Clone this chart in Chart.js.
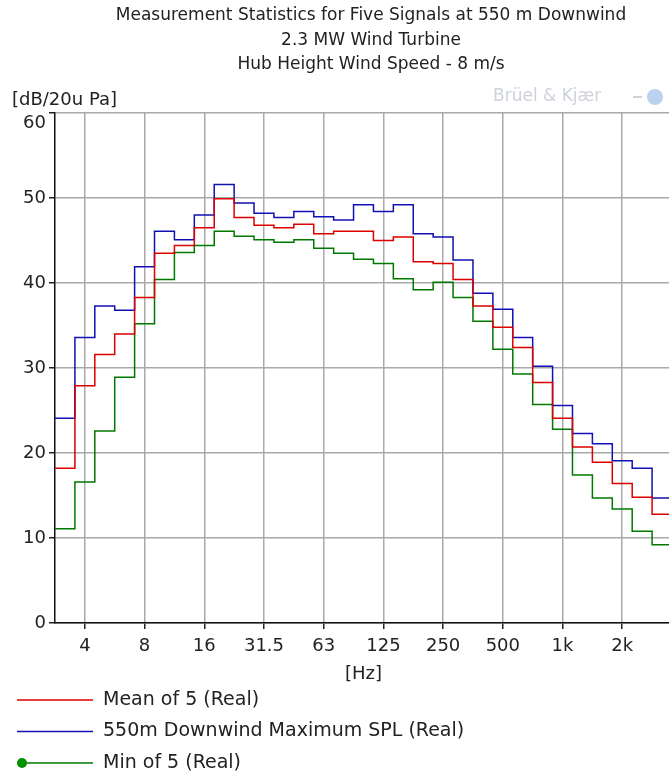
<!DOCTYPE html>
<html><head><meta charset="utf-8">
<script src="https://cdn.jsdelivr.net/npm/chart.js@4"></script>
<style>
html,body{margin:0;padding:0;background:#fff;overflow:hidden;width:669px;height:780px}
#wrap{position:absolute;left:0;top:0;width:742px;height:780px}
</style></head><body>
<div id="wrap"><canvas id="c" width="742" height="780"></canvas></div>
<script>
// 1/3-octave band centre labels
const bandLabels = ['3.15','4','5','6.3','8','10','12.5','16','20','25','31.5','40','50','63','80','100','125','160','200','250','315','400','500','630','800','1k','1.25k','1.6k','2k','2.5k','3.15k'];
// dB values per band
const meanOf5 = [18.2,27.9,31.6,34.0,38.3,43.5,44.4,46.5,49.9,47.7,46.8,46.5,46.9,45.8,46.1,46.1,45.0,45.4,42.5,42.3,40.4,37.3,34.8,32.4,28.3,24.1,20.7,18.9,16.4,14.8,12.8];
const maxSPL  = [24.1,33.6,37.3,36.8,41.9,46.1,45.1,48.0,51.6,49.4,48.2,47.7,48.4,47.8,47.4,49.2,48.4,49.2,45.8,45.4,42.7,38.8,36.9,33.6,30.2,25.6,22.3,21.1,19.1,18.2,14.7];
const minOf5  = [11.1,16.6,22.6,28.9,35.2,40.4,43.6,44.4,46.1,45.5,45.1,44.8,45.1,44.1,43.5,42.8,42.3,40.5,39.2,40.1,38.3,35.5,32.2,29.3,25.7,22.8,17.4,14.7,13.4,10.8,9.2];
// axis tick labels
const tickLabels = ['4','8','16','31.5','63','125','250','500','1k','2k'];
const yTicks = [0,10,20,30,40,50,60];
const seriesNames = ['Mean of 5 (Real)','550m Downwind Maximum SPL (Real)','Min of 5 (Real)'];
const titleLines = ['Measurement Statistics for Five Signals at 550 m Downwind','2.3 MW Wind Turbine','Hub Height Wind Speed - 8 m/s'];

const FONT = '"DejaVu Sans", "Noto Sans", sans-serif';
const TXT = '#222';
const tickIdx = tickLabels.map(l => bandLabels.indexOf(l));
const steps = arr => arr.map((v,i)=>({x:i-0.5,y:v})).concat([{x:arr.length-0.5,y:arr[arr.length-1]}]);

const extras = {
  id:'extras',
  afterDraw(chart){
    const ctx = chart.ctx, ca = chart.chartArea;
    ctx.save();
    ctx.textBaseline='middle';
    // title
    ctx.font = '17px '+FONT; ctx.textAlign='center'; ctx.fillStyle = TXT;
    titleLines.forEach((t,i)=> ctx.fillText(t, chart.width/2, 16 + i*24.5));
    // legend
    ctx.textAlign='left';
    ctx.font = '19px '+FONT;
    chart.data.datasets.forEach((ds,i)=>{
      const y = ca.bottom + 77 + i*31.5;
      ctx.strokeStyle = ds.borderColor; ctx.lineWidth = 1.5;
      ctx.beginPath(); ctx.moveTo(17,y); ctx.lineTo(93,y); ctx.stroke();
      if (ds.legendDot){ ctx.fillStyle = ds.legendDot; ctx.beginPath(); ctx.arc(22,y,5,0,Math.PI*2); ctx.fill(); }
      ctx.fillStyle = TXT; ctx.fillText(ds.label, 103, y);
    });
    // unit label
    ctx.font = '18px '+FONT;
    ctx.fillStyle = TXT;
    ctx.fillText('[dB/20u Pa]', 12, ca.top - 13);
    // watermark
    ctx.font = '17px '+FONT;
    ctx.fillStyle = '#cdd2db';
    ctx.fillText('Brüel & Kjær', 493, ca.top - 16);
    ctx.fillRect(633, ca.top - 17, 9, 2);
    ctx.fillStyle = '#bcd1ef';
    ctx.beginPath(); ctx.arc(655, ca.top - 16, 8, 0, Math.PI*2); ctx.fill();
    ctx.restore();
  }
};

new Chart(document.getElementById('c'), {
  type:'line',
  data:{ datasets:[
    {label:seriesNames[0], data:steps(meanOf5), borderColor:'#dc0000', borderWidth:1.5, pointRadius:0, stepped:true},
    {label:seriesNames[1], data:steps(maxSPL), borderColor:'#1010b4', borderWidth:1.5, pointRadius:0, stepped:true},
    {label:seriesNames[2], data:steps(minOf5), borderColor:'#007800', borderWidth:1.5, pointRadius:0, stepped:true, legendDot:'#009000'}
  ]},
  options:{
    responsive:false, animation:false, events:[],
    layout:{padding:{left:0,right:70,top:113,bottom:95}},
    plugins:{ legend:{display:false}, tooltip:{enabled:false}, title:{display:false} },
    scales:{
      x:{type:'linear', min:-0.5, max:bandLabels.length-0.5,
        afterBuildTicks:s=>{ s.ticks = tickIdx.map(v=>({value:v})); },
        afterFit:s=>{ s.height = 62; },
        ticks:{callback:v=>bandLabels[v], color:TXT, font:{family:FONT,size:18}, maxRotation:0, autoSkip:false, padding:7},
        grid:{color:'#a9a9a9', lineWidth:1.5, tickLength:6, tickColor:'#222', tickWidth:1.5},
        border:{color:'#111', width:1.5},
        title:{display:true, text:'[Hz]', color:TXT, font:{family:FONT,size:18}, padding:{top:0,bottom:0}}
      },
      y:{min:0, max:60,
        afterBuildTicks:s=>{ s.ticks = yTicks.map(v=>({value:v})); },
        afterFit:s=>{ s.width = 55; },
        ticks:{callback:v=> v===60 ? ['','60'] : String(v), color:TXT, font:{family:FONT,size:18}, padding:3},
        grid:{color:'#a9a9a9', lineWidth:1.5, tickLength:6, tickColor:'#222', tickWidth:1.5},
        border:{color:'#111', width:1.5}
      }
    }
  },
  plugins:[extras]
});
</script>
</body></html>
